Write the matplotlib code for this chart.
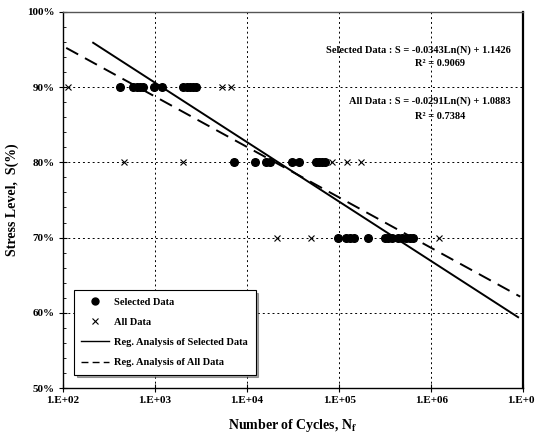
import numpy as np
import matplotlib
matplotlib.use("Agg")
import matplotlib.pyplot as plt
from matplotlib.lines import Line2D

plt.rcParams['font.family'] = ['Liberation Serif', 'DejaVu Serif']
plt.rcParams['font.weight'] = 'bold'
plt.rcParams['axes.labelweight'] = 'bold'
plt.rcParams['mathtext.fontset'] = 'stix'

# selected data (cycles to failure) per stress level
selected_90 = [410, 576, 637, 687, 741, 960, 1200, 2010, 2200, 2400, 2600, 2790]
selected_80 = [7230, 12200, 16100, 17800, 30800, 36700, 56200, 60800, 65300, 70500]
selected_70 = [98000, 119000, 132000, 146000, 208000, 316000, 341000, 374000,
               438000, 484000, 535000, 592000, 637000]

# extra points only in "All Data"
extra_90 = [113, 5350, 6700]
extra_80 = [460, 2010, 84000, 122000, 173000]
extra_70 = [21000, 49600, 1230000]

stress_levels = [0.9, 0.8, 0.7]

# regression S = a*Ln(N) + b, and N range of the drawn line
sel_coef = (-0.0343, 1.1426)
sel_range = (212, 8.8e6)
all_coef = (-0.0291, 1.0883)
all_range = (108, 9.27e6)

y_ticks = [0.5, 0.6, 0.7, 0.8, 0.9, 1.0]
y_tick_labels = ['50%', '60%', '70%', '80%', '90%', '100%']
x_ticks = [1e2, 1e3, 1e4, 1e5, 1e6, 1e7]
x_tick_labels = ['1.E+02', '1.E+03', '1.E+04', '1.E+05', '1.E+06', '1.E+07']


def Stack(groups):
    n, s = [], []
    for g, lvl in zip(groups, stress_levels):
        n += g
        s += [lvl] * len(g)
    return np.array(n, dtype=float), np.array(s)


def Reg_Line(coef, rng):
    n = np.array(rng, dtype=float)
    return n, coef[0] * np.log(n) + coef[1]


fig = plt.figure(figsize=(5.35, 4.37), dpi=100)
ax = fig.add_axes([0.118, 0.112, 0.86, 0.861])

sel_n, sel_s = Stack([selected_90, selected_80, selected_70])
ext_n, ext_s = Stack([extra_90, extra_80, extra_70])
all_n = np.concatenate([sel_n, ext_n])
all_s = np.concatenate([sel_s, ext_s])

ax.plot(all_n, all_s, 'x', color='black', markersize=5, mew=0.8, zorder=3)
ax.plot(sel_n, sel_s, 'o', color='black', markersize=5.5, zorder=4)

n, s = Reg_Line(sel_coef, sel_range)
ax.plot(n, s, '-', color='black', lw=1.4, zorder=5)
n, s = Reg_Line(all_coef, all_range)
ax.plot(n, s, color='black', lw=1.4, dashes=(7, 4), zorder=5)

ax.set_xscale('log')
ax.set_xlim(1e2, 1e7)
ax.set_ylim(0.5, 1.0)
ax.set_xticks(x_ticks)
ax.set_xticklabels(x_tick_labels)
ax.set_yticks(y_ticks)
ax.set_yticklabels(y_tick_labels)
ax.minorticks_off()
ax.set_yticks(np.arange(0.5, 1.0, 0.02), minor=True)
ax.tick_params(axis='y', which='minor', direction='in', length=2, width=0.6)
ax.tick_params(which='major', direction='inout', length=6, width=0.8,
               labelsize=8, pad=3)
ax.grid(True, which='major', color='black', linestyle=(0, (2, 3)), lw=0.7)

for sp in ax.spines.values():
    sp.set_linewidth(1.0)
ax.spines['right'].set_linewidth(1.6)
ax.spines['top'].set_color('#555555')

ax.set_xlabel('Number of Cycles, N$_\\mathbf{f}$', fontsize=10, labelpad=8)
ax.set_ylabel('Stress Level,  S(%)', fontsize=10, labelpad=6)

ax.text(0.972, 0.899, 'Selected Data : S = -0.0343Ln(N) + 1.1426',
        transform=ax.transAxes, ha='right', va='center', fontsize=7.5)
ax.text(0.765, 0.862, 'R² = 0.9069', transform=ax.transAxes,
        ha='left', va='center', fontsize=7.5)
ax.text(0.972, 0.763, 'All Data : S = -0.0291Ln(N) + 1.0883',
        transform=ax.transAxes, ha='right', va='center', fontsize=7.5)
ax.text(0.765, 0.721, 'R² = 0.7384', transform=ax.transAxes,
        ha='left', va='center', fontsize=7.5)

handles = [
    Line2D([], [], marker='o', color='black', ls='none', markersize=5),
    Line2D([], [], marker='x', color='black', ls='none', markersize=5, mew=0.8),
    Line2D([], [], color='black', lw=1.0),
    Line2D([], [], color='black', lw=1.0, dashes=(5, 3)),
]
labels = ['Selected Data', 'All Data', 'Reg. Analysis of Selected Data',
          'Reg. Analysis of All Data']
leg = ax.legend(handles, labels, loc='lower left', bbox_to_anchor=(0.012, 0.022),
                fontsize=7.5, frameon=True, fancybox=False, shadow=True,
                edgecolor='black', framealpha=1, handlelength=2.7,
                labelspacing=1.05, borderpad=0.7, handletextpad=0.5)
leg.get_frame().set_linewidth(0.8)

fig.savefig('out.png', dpi=100)
